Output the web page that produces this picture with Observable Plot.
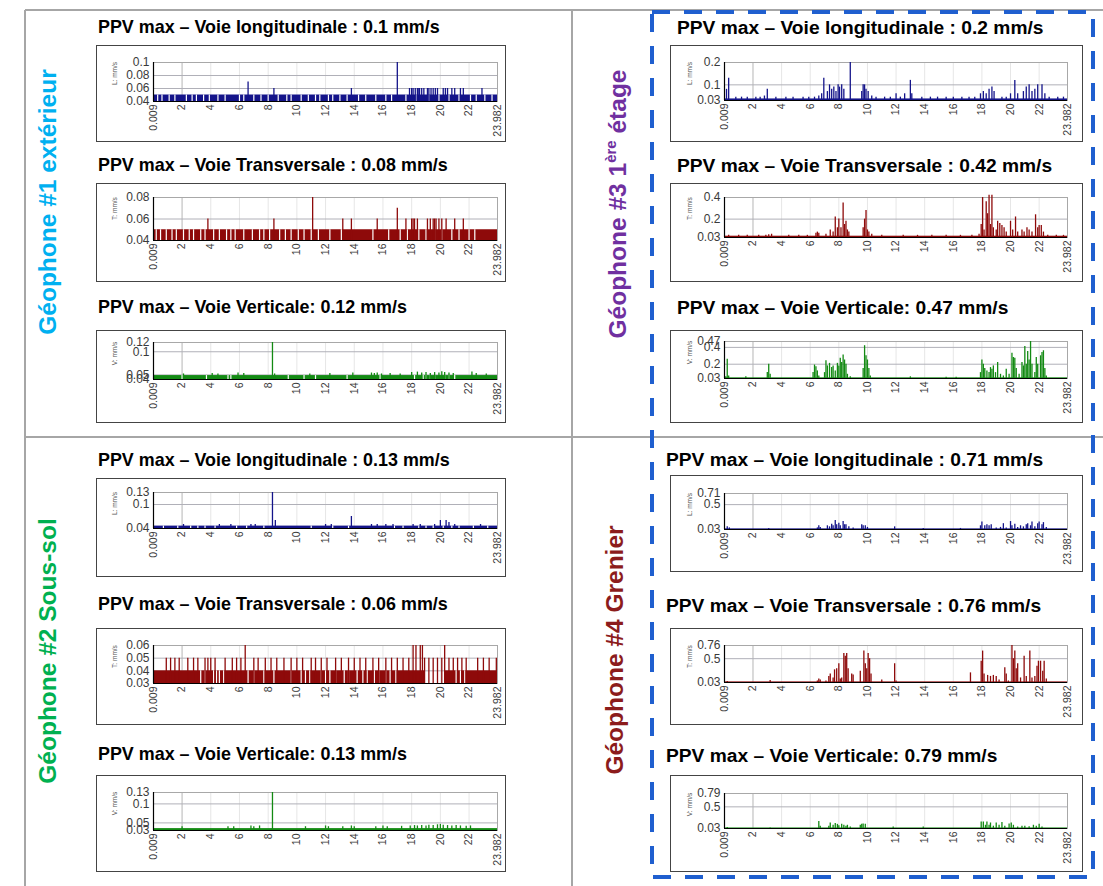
<!DOCTYPE html>
<html><head><meta charset="utf-8">
<script src="https://cdn.jsdelivr.net/npm/d3@7"></script>
<script src="https://cdn.jsdelivr.net/npm/@observablehq/plot@0.6"></script>
<style>
body{margin:0;background:#fff;font-family:"Liberation Sans",Arial,sans-serif;}
#page{position:relative;width:1103px;height:886px;overflow:hidden;background:#fff;}
.title{position:absolute;font-weight:bold;font-size:17.9px;white-space:nowrap;color:#000;line-height:1;transform:translateY(-50%);}
.title.r{font-size:19.2px;}
.rowlabel{position:absolute;font-weight:bold;font-size:24.5px;white-space:nowrap;line-height:1;transform:translate(-50%,-50%) rotate(-90deg);}
.rowlabel sup{font-size:15px;vertical-align:top;position:relative;top:-3px;}
.box{position:absolute;border:1.5px solid #444;box-sizing:border-box;pointer-events:none;}
.chart{position:absolute;}
</style></head><body><div id="page"></div>
<script>
// ---------------- DATA ----------------
const xTicks = [0.009, 2, 4, 6, 8, 10, 12, 14, 16, 18, 20, 22, 23.982];
const xDomain = [0.009, 23.982];

const titles = [
  "PPV max – Voie longitudinale : 0.1 mm/s",
  "PPV max – Voie Transversale : 0.08 mm/s",
  "PPV max – Voie Verticale: 0.12 mm/s",
  "PPV max – Voie longitudinale : 0.2 mm/s",
  "PPV max – Voie Transversale : 0.42 mm/s",
  "PPV max – Voie Verticale: 0.47  mm/s",
  "PPV max – Voie longitudinale : 0.13 mm/s",
  "PPV max – Voie Transversale : 0.06 mm/s",
  "PPV max – Voie Verticale: 0.13 mm/s",
  "PPV max – Voie longitudinale : 0.71 mm/s",
  "PPV max – Voie Transversale : 0.76 mm/s",
  "PPV max – Voie Verticale: 0.79 mm/s"
];
const axisLabels = ["L: mm/s", "T: mm/s", "V: mm/s"];

// y tick values per panel
const yTicks1 = [0.04, 0.06, 0.08, 0.1];
const yTicks2 = [0.04, 0.06, 0.08];
const yTicks3 = [0.04, 0.05, 0.1, 0.12];
const yTicks4 = [0.03, 0.1, 0.2];
const yTicks5 = [0.03, 0.2, 0.4];
const yTicks6 = [0.03, 0.2, 0.4, 0.47];
const yTicks7 = [0.04, 0.1, 0.13];
const yTicks8 = [0.03, 0.04, 0.05, 0.06];
const yTicks9 = [0.03, 0.05, 0.1, 0.13];
const yTicks10 = [0.03, 0.5, 0.71];
const yTicks11 = [0.03, 0.5, 0.76];
const yTicks12 = [0.03, 0.5, 0.79];

// background level [from, to, level]
const floor1 = [[0.009, 23.982, 0.05]];
const floor2 = [[0.009, 23.982, 0.05]];
const floor3 = [[0.009, 23.982, 0.0485]];
const floor4 = [[0.009, 23.982, 0.037]];
const floor5 = [[0.009, 23.982, 0.042]];
const floor6 = [[0.009, 23.982, 0.038]];
const floor7 = [[0.009, 23.982, 0.046]];
const floor8 = [[0.009, 18.9, 0.04], [20.3, 23.982, 0.04]];
const floor9 = [[0.009, 23.982, 0.035]];
const floor10 = [[0.009, 23.982, 0.042]];
const floor11 = [[0.009, 23.982, 0.042]];
const floor12 = [[0.009, 23.982, 0.042]];

// instants with no reading in the background level
const gaps1 = [0.3,0.6,1.1,1.5,2.3,2.7,3.0,3.5,3.9,4.5,5.0,6.0,6.3,7.0,7.5,8.0,8.7,9.3,9.6,10.3,10.8,11.3,11.6,12.2,12.5,13.0,13.5,14.3,14.8,15.5,16.2,16.6,17.6,18.3,19.2,19.9,20.6,21.3,22.1,22.5,23.1,23.6];
const gaps2 = [0.2,0.5,0.9,1.3,1.6,2.1,2.5,2.8,3.3,3.6,4.2,4.6,5.1,5.4,5.7,6.3,6.9,7.4,7.7,8.1,8.8,9.2,9.6,10.1,10.5,11.0,11.5,12.3,13.1,15.3,16.4,17.2,17.7,18.5,19.0,19.6,20.1,20.8,21.3,22.0,22.4];
const gaps3 = [2.0,3.7,5.2,5.4,9.4,10.5,11.3,13.5,15.8,18.2,18.8,19.0,19.3,19.6,20.3,20.6,21.0];
const gaps7 = [0.7,1.7,2.6,3.1,3.6,4.3,5.8,6.5,7.7,11.0,12.5,13.6,16.8,17.4,18.5,19.0,19.5,20.2,20.8,21.3,22.3,23.3];
const gaps8 = [3.3,3.6,4.2,4.4,4.6,4.9,6.6,7.0,7.7,8.4,9.6,10.3,10.6,10.9,11.7,12.0,12.3,12.7,13.3,13.6,14.2,14.6,14.9,15.4,15.7,16.2,16.5,16.9,21.1,21.4,21.7];

// peaks [time (h), value (mm/s)]
const spikes1 = [[6.6,0.07],[8.4,0.06],[13.8,0.06],[17.0,0.1],[17.85,0.06],[18.0,0.06],[18.1,0.06],[18.25,0.06],[18.4,0.06],[18.5,0.06],[18.55,0.06],[18.7,0.06],[18.85,0.06],[19.1,0.06],[19.2,0.06],[19.35,0.06],[19.5,0.06],[19.65,0.06],[19.8,0.06],[20.2,0.06],[20.35,0.06],[20.5,0.06],[20.8,0.06],[21.0,0.06],[21.4,0.06],[21.6,0.06],[22.9,0.06]];
const spikes2 = [[3.8,0.06],[8.4,0.06],[11.1,0.08],[13.2,0.06],[13.8,0.06],[15.6,0.06],[17.0,0.07],[17.6,0.06],[18.0,0.06],[18.1,0.06],[18.2,0.06],[18.4,0.06],[19.1,0.06],[19.3,0.06],[19.5,0.06],[19.6,0.06],[19.7,0.06],[19.9,0.06],[20.1,0.06],[20.4,0.06],[21.0,0.06],[21.6,0.06]];
const spikes3 = [[2.1,0.052],[4.1,0.053],[4.5,0.052],[5.9,0.054],[6.3,0.053],[8.3,0.12],[8.45,0.052],[10.9,0.052],[12.3,0.053],[13.9,0.054],[15.2,0.054],[15.4,0.053],[15.6,0.054],[15.9,0.052],[16.5,0.053],[17.2,0.052],[18.0,0.055],[18.4,0.056],[18.7,0.054],[19.0,0.055],[19.3,0.053],[19.6,0.055],[19.9,0.054],[20.1,0.057],[20.3,0.055],[20.6,0.054],[20.9,0.053],[22.2,0.056],[22.5,0.053],[23.2,0.052]];
const spikes4 = [[0.15,0.08],[0.3,0.13],[0.8,0.045],[1.2,0.045],[1.6,0.045],[2.2,0.045],[2.5,0.045],[2.8,0.05],[3.0,0.08],[3.6,0.045],[4.3,0.045],[4.8,0.045],[5.5,0.045],[5.9,0.045],[6.3,0.045],[6.6,0.05],[6.8,0.06],[6.95,0.13],[7.2,0.07],[7.35,0.1],[7.5,0.08],[7.65,0.09],[7.8,0.07],[7.95,0.1],[8.05,0.09],[8.2,0.1],[8.35,0.08],[8.8,0.2],[9.6,0.07],[9.7,0.1],[9.8,0.1],[9.9,0.08],[10.05,0.07],[10.3,0.05],[10.6,0.045],[11.2,0.045],[11.6,0.045],[12.0,0.06],[12.3,0.045],[12.6,0.06],[13.0,0.12],[13.1,0.06],[13.8,0.045],[14.4,0.045],[14.9,0.045],[15.5,0.045],[16.0,0.045],[16.6,0.045],[17.1,0.045],[17.5,0.045],[17.9,0.06],[18.1,0.07],[18.3,0.06],[18.5,0.08],[18.7,0.09],[18.85,0.07],[19.4,0.045],[19.7,0.045],[20.0,0.06],[20.3,0.12],[20.5,0.06],[20.9,0.07],[21.1,0.09],[21.3,0.1],[21.5,0.07],[21.7,0.08],[21.9,0.1],[22.2,0.1],[22.4,0.06],[22.7,0.045],[23.3,0.045],[23.7,0.045]];
const spikes5 = [[0.3,0.05],[1.0,0.05],[1.6,0.05],[2.4,0.05],[2.9,0.05],[3.1,0.055],[3.3,0.06],[4.5,0.05],[5.2,0.05],[5.8,0.05],[6.4,0.07],[6.5,0.08],[6.6,0.07],[7.1,0.06],[7.4,0.1],[7.6,0.08],[7.75,0.22],[7.9,0.12],[8.0,0.2],[8.15,0.12],[8.3,0.35],[8.4,0.15],[8.5,0.18],[8.6,0.1],[8.7,0.08],[9.7,0.12],[9.8,0.2],[9.9,0.28],[10.0,0.1],[10.1,0.08],[10.3,0.06],[11.0,0.05],[12.5,0.05],[13.5,0.05],[14.5,0.05],[15.5,0.05],[16.5,0.05],[17.3,0.05],[17.8,0.06],[17.95,0.15],[18.05,0.4],[18.15,0.1],[18.3,0.36],[18.4,0.25],[18.5,0.42],[18.6,0.15],[18.7,0.42],[18.8,0.12],[19.0,0.1],[19.1,0.18],[19.25,0.16],[19.4,0.14],[19.55,0.12],[19.7,0.08],[20.0,0.18],[20.15,0.1],[20.35,0.22],[20.5,0.08],[20.8,0.1],[20.95,0.08],[21.15,0.12],[21.3,0.1],[21.5,0.08],[21.75,0.24],[21.9,0.12],[22.0,0.14],[22.15,0.14],[22.3,0.08],[22.6,0.05],[23.2,0.05],[23.7,0.05]];
const spikes6 = [[0.1,0.05],[0.2,0.26],[0.3,0.06],[1.5,0.05],[3.0,0.1],[3.1,0.2],[3.2,0.08],[6.2,0.1],[6.3,0.19],[6.4,0.17],[6.5,0.12],[6.6,0.06],[7.0,0.1],[7.1,0.24],[7.2,0.18],[7.35,0.21],[7.5,0.16],[7.6,0.18],[7.75,0.12],[7.9,0.21],[8.0,0.18],[8.1,0.27],[8.2,0.22],[8.3,0.31],[8.4,0.25],[8.5,0.2],[8.6,0.08],[8.8,0.05],[9.7,0.15],[9.8,0.42],[9.9,0.3],[10.0,0.25],[10.1,0.15],[10.2,0.06],[13.0,0.05],[15.5,0.045],[16.2,0.045],[17.9,0.1],[18.0,0.25],[18.1,0.2],[18.2,0.15],[18.35,0.12],[18.5,0.1],[18.6,0.16],[18.7,0.14],[18.8,0.18],[18.95,0.1],[19.1,0.22],[19.3,0.08],[19.5,0.06],[19.7,0.14],[19.9,0.08],[20.1,0.33],[20.2,0.28],[20.3,0.27],[20.4,0.15],[20.6,0.08],[20.8,0.22],[20.9,0.18],[21.0,0.41],[21.1,0.2],[21.2,0.35],[21.3,0.25],[21.4,0.47],[21.5,0.2],[21.7,0.1],[21.8,0.28],[21.9,0.2],[22.1,0.3],[22.2,0.34],[22.3,0.36],[22.4,0.15],[22.5,0.06]];
const spikes7 = [[2.1,0.05],[4.6,0.05],[5.4,0.05],[6.8,0.05],[7.1,0.05],[8.3,0.13],[8.5,0.06],[12.0,0.05],[12.4,0.05],[13.8,0.07],[15.2,0.05],[15.6,0.05],[16.2,0.05],[16.7,0.05],[18.1,0.05],[18.6,0.05],[19.6,0.05],[20.0,0.06],[20.4,0.06],[20.6,0.055],[21.0,0.05],[22.8,0.05]];
const spikes8 = [[0.9,0.05],[1.2,0.05],[1.5,0.05],[1.8,0.05],[2.4,0.05],[2.8,0.05],[3.1,0.05],[3.6,0.05],[3.8,0.05],[4.0,0.05],[4.3,0.05],[5.0,0.05],[5.5,0.05],[5.8,0.05],[6.1,0.05],[6.4,0.06],[7.0,0.05],[7.3,0.05],[7.8,0.05],[8.2,0.05],[8.6,0.05],[9.1,0.05],[9.6,0.05],[10.0,0.05],[10.4,0.05],[11.0,0.05],[11.3,0.05],[11.7,0.05],[12.1,0.05],[12.7,0.05],[13.1,0.05],[13.6,0.05],[14.0,0.05],[14.4,0.05],[14.8,0.05],[15.3,0.05],[15.7,0.05],[16.2,0.05],[16.6,0.05],[17.0,0.05],[17.4,0.05],[17.8,0.05],[18.1,0.06],[18.3,0.06],[18.6,0.06],[18.75,0.06],[18.9,0.05],[19.2,0.05],[19.5,0.05],[19.8,0.05],[20.1,0.05],[20.3,0.06],[20.6,0.05],[20.9,0.05],[21.2,0.05],[21.5,0.05],[21.8,0.05],[22.6,0.05],[23.0,0.05],[23.4,0.05],[23.9,0.05]];
const spikes9 = [[2.0,0.04],[5.2,0.04],[5.6,0.04],[6.8,0.042],[7.0,0.04],[7.4,0.042],[8.3,0.13],[10.6,0.04],[12.0,0.042],[12.2,0.04],[13.2,0.04],[13.8,0.042],[14.0,0.04],[15.5,0.04],[16.0,0.042],[16.3,0.04],[17.3,0.041],[17.9,0.042],[18.2,0.043],[18.4,0.042],[18.7,0.043],[19.0,0.042],[19.2,0.044],[19.5,0.043],[19.8,0.045],[20.0,0.046],[20.2,0.044],[20.5,0.043],[20.8,0.042],[21.1,0.043],[21.4,0.042],[21.8,0.041],[22.1,0.042]];
const spikes10 = [[0.2,0.08],[0.35,0.06],[3.1,0.05],[6.5,0.06],[6.6,0.1],[6.7,0.07],[7.2,0.1],[7.35,0.08],[7.5,0.13],[7.6,0.1],[7.75,0.2],[7.85,0.12],[8.0,0.15],[8.1,0.1],[8.3,0.18],[8.4,0.12],[8.5,0.12],[8.7,0.08],[9.0,0.06],[9.6,0.12],[9.7,0.1],[9.85,0.1],[10.0,0.07],[11.9,0.08],[13.9,0.05],[16.5,0.05],[17.9,0.1],[18.0,0.17],[18.2,0.1],[18.35,0.12],[18.5,0.1],[18.65,0.12],[19.0,0.06],[19.3,0.07],[19.5,0.14],[19.7,0.06],[20.0,0.18],[20.1,0.1],[20.3,0.13],[20.5,0.07],[20.7,0.1],[20.9,0.08],[21.1,0.12],[21.2,0.14],[21.4,0.1],[21.5,0.17],[21.7,0.08],[21.9,0.14],[22.0,0.17],[22.2,0.12],[22.3,0.16],[22.5,0.07]];
const spikes11 = [[0.2,0.05],[3.2,0.07],[6.5,0.06],[6.6,0.1],[6.7,0.08],[7.1,0.06],[7.3,0.15],[7.4,0.2],[7.6,0.12],[7.7,0.28],[7.85,0.3],[8.0,0.4],[8.1,0.1],[8.2,0.12],[8.35,0.6],[8.45,0.55],[8.55,0.6],[8.65,0.3],[8.9,0.2],[9.0,0.18],[9.5,0.25],[9.75,0.65],[9.85,0.4],[9.95,0.3],[10.05,0.6],[10.15,0.5],[10.25,0.2],[11.0,0.08],[11.9,0.4],[12.0,0.06],[17.2,0.22],[17.95,0.45],[18.05,0.65],[18.15,0.2],[18.4,0.17],[18.6,0.15],[18.8,0.17],[19.0,0.15],[19.2,0.08],[19.6,0.32],[19.7,0.2],[19.85,0.06],[20.1,0.76],[20.2,0.5],[20.3,0.65],[20.4,0.3],[20.5,0.4],[20.7,0.12],[20.95,0.55],[21.1,0.15],[21.35,0.65],[21.5,0.12],[21.7,0.15],[21.85,0.35],[21.95,0.45],[22.1,0.45],[22.25,0.25],[22.35,0.45],[22.5,0.1]];
const spikes12 = [[0.2,0.05],[3.2,0.04],[6.6,0.18],[6.7,0.08],[7.3,0.08],[7.4,0.15],[7.6,0.1],[7.75,0.14],[7.9,0.12],[8.0,0.09],[8.2,0.12],[8.35,0.1],[8.5,0.08],[8.6,0.1],[8.8,0.06],[9.5,0.1],[9.6,0.12],[9.7,0.13],[9.85,0.12],[11.8,0.06],[13.9,0.06],[17.95,0.17],[18.1,0.17],[18.25,0.1],[18.35,0.17],[18.5,0.1],[18.6,0.15],[18.8,0.08],[19.0,0.15],[19.2,0.1],[19.4,0.16],[19.6,0.08],[19.9,0.13],[20.05,0.15],[20.2,0.1],[20.5,0.06],[20.8,0.08],[21.0,0.08],[21.3,0.07],[21.6,0.1],[21.8,0.08],[22.0,0.12],[22.2,0.06]];

// ---------------- LAYOUT / STYLE ----------------
const colL = "#14148a", colT = "#8e0a0a", colV = "#138a13";
const cols = {
  left:  {x: 96,  w: 410, plotL: 153, plotR: 497, lblDx: -41, titleX: 98, tcls: "title"},
  right: {x: 670, w: 413, plotL: 724, plotR: 1067, lblDx: -37, titleX: 677, tcls: "title r"}
};
const panels = [
  {col:"left",  bt:45,  bb:142, pt:62,  pb:101, ty:28,  yt:yTicks1, fl:floor1, gp:gaps1, sp:spikes1, c:colL, lb:0},
  {col:"left",  bt:183, bb:282, pt:197, pb:240, ty:166, yt:yTicks2, fl:floor2, gp:gaps2, sp:spikes2, c:colT, lb:1},
  {col:"left",  bt:330, bb:423, pt:342, pb:379, ty:308, yt:yTicks3, fl:floor3, gp:gaps3, sp:spikes3, c:colV, lb:2},
  {col:"right", bt:45,  bb:142, pt:62,  pb:100, ty:28,  yt:yTicks4, fl:floor4, gp:[], sp:spikes4, c:colL, lb:0},
  {col:"right", bt:183, bb:282, pt:197, pb:237, ty:166, yt:yTicks5, fl:floor5, gp:[], sp:spikes5, c:colT, lb:1},
  {col:"right", bt:330, bb:423, pt:341, pb:378, ty:308, yt:yTicks6, fl:floor6, gp:[], sp:spikes6, c:colV, lb:2},
  {col:"left",  bt:478, bb:577, pt:492, pb:528, ty:461, yt:yTicks7, fl:floor7, gp:gaps7, sp:spikes7, c:colL, lb:0},
  {col:"left",  bt:628, bb:725, pt:645, pb:683, ty:605, yt:yTicks8, fl:floor8, gp:gaps8, sp:spikes8, c:colT, lb:1},
  {col:"left",  bt:775, bb:872, pt:792, pb:830, ty:755, yt:yTicks9, fl:floor9, gp:[], sp:spikes9, c:colV, lb:2},
  {col:"right", bt:475, bb:572, pt:493, pb:529, ty:460, yt:yTicks10, fl:floor10, gp:[], sp:spikes10, c:colL, lb:0, tx:666},
  {col:"right", bt:628, bb:725, pt:645, pb:682, ty:606, yt:yTicks11, fl:floor11, gp:[], sp:spikes11, c:colT, lb:1, tx:666},
  {col:"right", bt:775, bb:872, pt:793, pb:828, ty:756, yt:yTicks12, fl:floor12, gp:[], sp:spikes12, c:colV, lb:2, tx:666}
];
const rowLabels = [
  {html:"Géophone #1 extérieur", x:48, y:202, color:"#00B0F0"},
  {html:"Géophone #3 1<sup>ère</sup> étage", x:618, y:204, color:"#7030A0"},
  {html:"Géophone #2 Sous-sol", x:48, y:651, color:"#00B050"},
  {html:"Géophone #4 Grenier", x:615, y:650, color:"#8C1C1C"}
];

const page = document.getElementById("page");

// table lines (decoration)
const deco = d3.select(page).append("svg").attr("width",1103).attr("height",886)
  .style("position","absolute").style("left",0).style("top",0);
[[25,10,1103,10],[25,10,25,886],[572,10,572,886],[25,437,1103,437]].forEach(([x1,y1,x2,y2]) =>
  deco.append("line").attr("x1",x1).attr("y1",y1).attr("x2",x2).attr("y2",y2)
    .attr("stroke","#a6a6a6").attr("stroke-width",2));

// row labels
rowLabels.forEach(r => {
  const d = document.createElement("div");
  d.className = "rowlabel"; d.innerHTML = r.html;
  d.style.left = r.x + "px"; d.style.top = r.y + "px"; d.style.color = r.color;
  page.appendChild(d);
});

panels.forEach((p, i) => {
  const c = cols[p.col];
  const W = c.w, H = p.bb - p.bt;
  const ymin = p.yt[0], ymax = p.yt[p.yt.length - 1];
  const floorLevel = p.fl[0][2];
  const chart = Plot.plot({
    width: W, height: H,
    marginLeft: c.plotL - c.x, marginRight: c.x + W - c.plotR,
    marginTop: p.pt - p.bt, marginBottom: p.bb - p.pb,
    x: {domain: xDomain},
    y: {domain: [ymin, ymax]},
    style: {fontFamily: "'Liberation Sans', Arial, sans-serif", background: "transparent", color: "#3a3a3a", overflow: "visible"},
    marks: [
      Plot.ruleX(xTicks.slice(1, -1), {stroke: d => d === 2 ? "#b5b5b5" : "#e6e6e6", strokeWidth: 1}),
      Plot.ruleY(p.yt.slice(1, -1), {stroke: "#b0b0b8", strokeWidth: 1}),
      Plot.frame({stroke: "#a8a8a8", strokeWidth: 1}),
      Plot.rect(p.fl, {x1: d => d[0], x2: d => d[1], y1: ymin, y2: d => d[2], fill: p.c}),
      Plot.ruleX(p.gp, {x: d => d, y1: ymin, y2: floorLevel, stroke: "white", strokeWidth: 1.2}),
      Plot.ruleX(p.sp, {x: d => d[0], y1: ymin, y2: d => d[1], stroke: p.c, strokeWidth: 1.3}),
      Plot.ruleX([xDomain[0]], {stroke: "#000", strokeWidth: 1.2}),
      Plot.ruleY([ymin], {stroke: "#000", strokeWidth: 1.2}),
      Plot.axisY({ticks: p.yt, tickSize: 0, tickPadding: 4, tickFormat: d => String(d), fontSize: 12}),
      Plot.axisX({ticks: xTicks, tickSize: 0, tickPadding: 3, tickRotate: -90, tickFormat: d => String(d), fontSize: 10.5}),
      Plot.text([axisLabels[p.lb]], {text: d => d, frameAnchor: "top-left", rotate: -90, dx: c.lblDx, dy: 11, fontSize: 6.5, textAnchor: "middle", fill: "#555"})
    ]
  });
  chart.classList.add("chart");
  chart.style.left = c.x + "px"; chart.style.top = p.bt + "px";
  page.appendChild(chart);
  const box = document.createElement("div");
  box.className = "box";
  box.style.left = c.x + "px"; box.style.top = p.bt + "px";
  box.style.width = W + "px"; box.style.height = H + "px";
  page.appendChild(box);
  const t = document.createElement("div");
  t.className = c.tcls; t.textContent = titles[i];
  t.style.left = (p.tx ?? c.titleX) + "px"; t.style.top = p.ty + "px";
  page.appendChild(t);
});

// blue dashed frame (decoration)
const over = d3.select(page).append("svg").attr("width",1103).attr("height",886)
  .style("position","absolute").style("left",0).style("top",0).style("pointer-events","none");
over.append("rect").attr("x",652).attr("y",12).attr("width",441).attr("height",865)
  .attr("fill","none").attr("stroke","#1F5FCF").attr("stroke-width",4).attr("stroke-dasharray","18 14");
</script></body></html>
